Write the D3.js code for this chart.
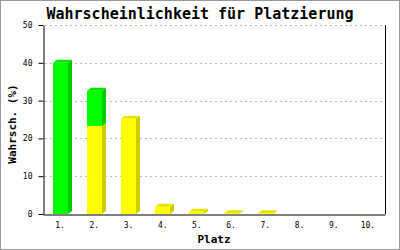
<!DOCTYPE html>
<html>
<head>
<meta charset="utf-8">
<script src="https://cdn.jsdelivr.net/npm/d3@7"></script>
<style>
  body { margin: 0; background: #fff; }
  svg { display: block; }
  .tick text { font-family: "DejaVu Sans Mono", monospace; font-size: 8px; fill: #000; }
</style>
</head>
<body>
<div id="chart"></div>
<script>
const categories = ['1.', '2.', '3.', '4.', '5.', '6.', '7.', '8.', '9.', '10.'];
// lower (yellow) and upper (green) stacked parts, in %
const yellowValues = [0, 23.3, 25.2, 1.9, 0.6, 0.2, 0.2, 0, 0, 0];
const greenValues = [40, 9.3, 0, 0, 0, 0, 0, 0, 0, 0];
const yTicks = [0, 10, 20, 30, 40, 50];

const width = 400;
const height = 250;
const margin = { top: 25, right: 15, bottom: 36, left: 43 };

const svg = d3.select('#chart')
  .append('svg')
  .attr('width', width)
  .attr('height', height);

// outer frame
svg.append('rect')
  .attr('x', 0.5).attr('y', 0.5)
  .attr('width', width - 1).attr('height', height - 1)
  .attr('fill', '#fff')
  .attr('stroke', '#999');

const xScale = d3.scaleBand()
  .domain(categories)
  .range([margin.left, width - margin.right]);

const yScale = d3.scaleLinear()
  .domain([0, 50])
  .range([height - margin.bottom, margin.top]);

// dashed grid
svg.append('g')
  .selectAll('line')
  .data(yTicks.filter(d => d > 0))
  .enter()
  .append('line')
  .attr('x1', margin.left + 2)
  .attr('x2', width - margin.right)
  .attr('y1', d => Math.round(yScale(d)) + 0.5)
  .attr('y2', d => Math.round(yScale(d)) + 0.5)
  .attr('stroke', '#bbb')
  .attr('stroke-dasharray', '2,3');

// stacked segments
const segments = [];
categories.forEach((c, i) => {
  const y0 = yellowValues[i];
  if (y0 > 0) segments.push({ c, lo: 0, hi: y0, front: '#ffff00', top: '#e4e400', side: '#cccc00' });
  if (greenValues[i] > 0) segments.push({ c, lo: y0, hi: y0 + greenValues[i], front: '#00ff00', top: '#00e400', side: '#00cc00' });
});

const barW = 15;
const dx = 4;
const dy = 3;

const bars = svg.append('g');
segments.forEach(s => {
  const x0 = Math.round(xScale(s.c) + xScale.bandwidth() / 2 - barW / 2);
  const x1 = x0 + barW;
  const yTop = yScale(s.hi);
  const yBot = yScale(s.lo);
  // side face
  bars.append('polygon')
    .attr('points', [[x1, yBot], [x1 + dx, yBot - dy], [x1 + dx, yTop - dy], [x1, yTop]].join(' '))
    .attr('fill', s.side);
  // top face
  bars.append('polygon')
    .attr('points', [[x0, yTop], [x0 + dx, yTop - dy], [x1 + dx, yTop - dy], [x1, yTop]].join(' '))
    .attr('fill', s.top);
  // front face
  bars.append('rect')
    .attr('x', x0)
    .attr('y', yTop)
    .attr('width', barW)
    .attr('height', Math.max(0, yBot - yTop))
    .attr('fill', s.front);
});

// right frame line
svg.append('line')
  .attr('x1', width - margin.right + 0.5)
  .attr('x2', width - margin.right + 0.5)
  .attr('y1', margin.top)
  .attr('y2', height - margin.bottom)
  .attr('stroke', '#000');

// y axis
const yAxis = d3.axisLeft(yScale)
  .tickValues(yTicks)
  .tickSize(5)
  .tickSizeOuter(0)
  .tickPadding(6);

svg.append('g')
  .attr('transform', `translate(${margin.left + 0.5}, 0)`)
  .call(yAxis)
  .call(g => g.select('.domain').attr('stroke', '#000'));

// x axis
const xAxis = d3.axisBottom(xScale)
  .tickSize(0)
  .tickSizeOuter(0)
  .tickPadding(8);

svg.append('g')
  .attr('transform', `translate(0, ${height - margin.bottom + 0.5})`)
  .call(xAxis)
  .call(g => g.select('.domain').attr('stroke', '#000'));

// titles
svg.append('text')
  .attr('x', 200)
  .attr('y', 19)
  .attr('text-anchor', 'middle')
  .style('font-family', '"DejaVu Sans Mono", monospace')
  .style('font-weight', 'bold')
  .style('font-size', '15px')
  .text('Wahrscheinlichkeit für Platzierung');

svg.append('text')
  .attr('x', 214)
  .attr('y', 243)
  .attr('text-anchor', 'middle')
  .style('font-family', '"DejaVu Sans Mono", monospace')
  .style('font-weight', 'bold')
  .style('font-size', '11px')
  .text('Platz');

svg.append('text')
  .attr('transform', 'translate(16, 124) rotate(-90)')
  .attr('text-anchor', 'middle')
  .style('font-family', '"DejaVu Sans Mono", monospace')
  .style('font-weight', 'bold')
  .style('font-size', '11px')
  .text('Wahrsch. (%)');
</script>
</body>
</html>
